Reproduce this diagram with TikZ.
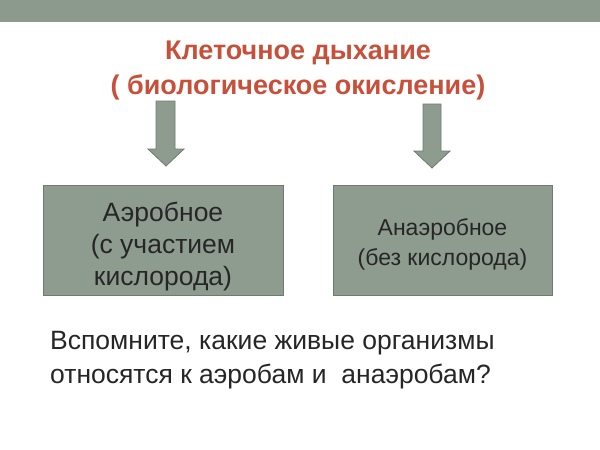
\documentclass[tikz,border=0pt]{standalone}
\usepackage{fontspec}
\setmainfont{Liberation Sans}
\definecolor{band}{HTML}{8C9A8E}
\definecolor{boxc}{HTML}{8E9C90}
\definecolor{boxb}{HTML}{6F7A70}
\definecolor{titlec}{HTML}{C8503A}
\tikzset{
 box/.style={draw=boxb,fill=boxc,line width=1pt,minimum height=110pt,minimum width=#1,align=center,text=black!85,inner sep=0pt},
 darrow/.style={draw=boxb,fill=boxc,line width=0.8pt}
}
\begin{document}
\begin{tikzpicture}[x=1pt,y=-1pt]
\useasboundingbox (0,0) rectangle (600,450);
\fill[white] (0,0) rectangle (600,450);
\fill[band] (0,0) rectangle (600,22);
\node[font=\bfseries\fontsize{27}{35}\selectfont,text=titlec,align=center] (title) at (298,71) {Клеточное дыхание\\( биологическое окисление)};
\draw[darrow] (156,101) -- (175,101) -- (175,149) -- (184,149) -- (166,166) -- (148,149) -- (156,149) -- cycle;
\draw[darrow] (423,104) -- (441,104) -- (441,151) -- (450,151) -- (432,168) -- (414,151) -- (423,151) -- cycle;
\node[box=240pt] (aer) at (163,240) {};
\node[font=\fontsize{26.5}{32}\selectfont,align=center,text=black!85,inner sep=0pt] (aert) at (163,247) {Аэробное\\(с участием\\кислорода)};
\node[box=219pt] (anaer) at (442.5,240) {};
\node[font=\fontsize{23}{30}\selectfont,align=center,text=black!85,inner sep=0pt] (anaert) at (442.5,244) {Анаэробное\\(без кислорода)};
\node[anchor=north west,align=left,font=\fontsize{26.5}{34}\selectfont,text=black!85,inner sep=0pt] (q) at (50,331) {Вспомните, какие живые организмы\\относятся к аэробам и\ \ анаэробам?};
\end{tikzpicture}
\end{document}
